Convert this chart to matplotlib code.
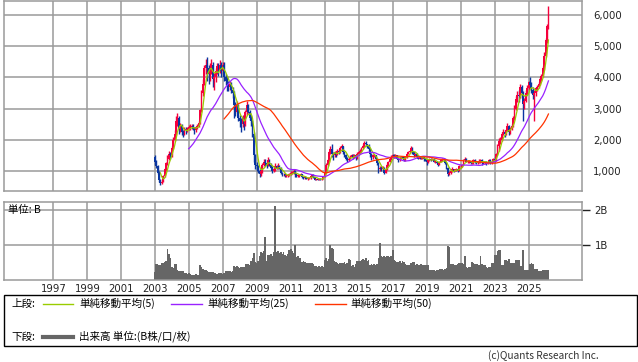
import numpy as np
import pandas as pd
import matplotlib

matplotlib.use("Agg")
import matplotlib.pyplot as plt
from matplotlib.patches import Rectangle

# monthly bars, first one is Dec 2002
first_year, first_month = 2002, 12
first_open = 1450

close = [
    1300,
    1150, 950, 700, 600, 650, 850, 1050, 1250, 1400, 1550, 1500, 1750,  # 2003
    2000, 2200, 2600, 2700, 2350, 2450, 2250, 2200, 2350, 2300, 2350, 2400,  # 2004
    2400, 2450, 2350, 2300, 2400, 2450, 2550, 2950, 3500, 3800, 4300, 4400,  # 2005
    4300, 4100, 4250, 4400, 3950, 4000, 4200, 4350, 4250, 4400, 4200, 4400,  # 2006
    4000, 3900, 3800, 3700, 3800, 3600, 3500, 3100, 2900, 3100, 2700, 2600,  # 2007
    2500, 2700, 2500, 2900, 3100, 2900, 2700, 2600, 2200, 1500, 1200, 1150,  # 2008
    1000, 900, 1000, 1200, 1300, 1250, 1200, 1350, 1200, 1100, 1000, 1050,  # 2009
    1150, 1100, 1150, 1100, 950, 900, 900, 850, 850, 850, 900, 950,  # 2010
    950, 1000, 900, 850, 850, 850, 900, 800, 780, 800, 750, 760,  # 2011
    780, 850, 880, 800, 720, 740, 720, 760, 740, 760, 820, 950,  # 2012
    1200, 1350, 1600, 1700, 1550, 1500, 1600, 1500, 1650, 1600, 1750, 1800,  # 2013
    1600, 1500, 1400, 1350, 1400, 1450, 1500, 1450, 1500, 1450, 1550, 1600,  # 2014
    1650, 1750, 1800, 1900, 1850, 1800, 1700, 1550, 1450, 1500, 1500, 1400,  # 2015
    1250, 1050, 1100, 1050, 1100, 950, 1050, 1200, 1300, 1400, 1450, 1500,  # 2016
    1450, 1500, 1400, 1350, 1400, 1450, 1400, 1350, 1450, 1550, 1600, 1650,  # 2017
    1750, 1600, 1500, 1550, 1450, 1400, 1450, 1400, 1450, 1400, 1350, 1300,  # 2018
    1350, 1400, 1350, 1400, 1300, 1300, 1250, 1200, 1300, 1350, 1400, 1350,  # 2019
    1250, 1100, 900, 950, 1000, 1050, 1000, 1050, 1050, 1000, 1150, 1150,  # 2020
    1200, 1350, 1400, 1300, 1300, 1300, 1250, 1250, 1350, 1300, 1250, 1300,  # 2021
    1300, 1350, 1300, 1250, 1300, 1250, 1300, 1350, 1250, 1300, 1400, 1350,  # 2022
    1550, 1800, 1950, 2000, 2200, 2250, 2200, 2300, 2450, 2250, 2350, 2450,  # 2023
    2700, 3000, 3300, 3450, 3400, 3700, 3500, 3150, 3250, 3500, 3650, 3850,  # 2024
    3750, 3600, 3450, 3500, 3650, 3700, 3800, 3950, 4050, 4300, 4700, 5200,  # 2025
    5650, 6150,  # 2026
]

high = [
    1520,
    1350, 1200, 1000, 750, 720, 880, 1100, 1300, 1500, 1650, 1600, 1800,
    2100, 2300, 2750, 2850, 2750, 2550, 2500, 2300, 2400, 2400, 2420, 2480,
    2500, 2520, 2500, 2400, 2450, 2500, 2600, 3000, 3600, 3950, 4400, 4600,
    4650, 4400, 4450, 4600, 4500, 4150, 4300, 4450, 4450, 4550, 4500, 4500,
    4500, 4100, 4050, 3900, 3900, 3850, 3700, 3550, 3200, 3250, 3150, 2800,
    2700, 2800, 2800, 2950, 3250, 3150, 2950, 2800, 2650, 2250, 1550, 1300,
    1200, 1050, 1100, 1250, 1400, 1400, 1300, 1450, 1400, 1250, 1150, 1100,
    1250, 1200, 1250, 1200, 1120, 980, 950, 920, 900, 900, 950, 1000,
    1000, 1050, 1020, 920, 900, 880, 930, 910, 820, 830, 820, 800,
    800, 870, 920, 890, 810, 760, 760, 780, 780, 780, 830, 960,
    1250, 1400, 1650, 1800, 1850, 1600, 1650, 1600, 1700, 1700, 1800, 1850,
    1800, 1650, 1550, 1450, 1450, 1500, 1550, 1550, 1550, 1520, 1600, 1650,
    1700, 1780, 1850, 1950, 1950, 1880, 1850, 1750, 1580, 1560, 1560, 1520,
    1420, 1300, 1150, 1150, 1150, 1120, 1080, 1250, 1320, 1420, 1500, 1550,
    1560, 1530, 1520, 1420, 1430, 1480, 1470, 1420, 1470, 1570, 1650, 1680,
    1800, 1760, 1620, 1580, 1570, 1470, 1480, 1480, 1480, 1460, 1420, 1370,
    1380, 1420, 1430, 1430, 1410, 1330, 1320, 1270, 1320, 1380, 1430, 1420,
    1380, 1280, 1130, 1000, 1060, 1120, 1070, 1080, 1100, 1070, 1180, 1190,
    1240, 1380, 1450, 1420, 1350, 1340, 1320, 1290, 1400, 1380, 1330, 1330,
    1380, 1400, 1380, 1330, 1320, 1320, 1320, 1390, 1380, 1330, 1420, 1460,
    1580, 1850, 2050, 2080, 2250, 2350, 2300, 2350, 2550, 2480, 2400, 2500,
    2750, 3100, 3400, 3550, 3600, 3800, 3750, 3550, 3350, 3600, 3750, 3900,
    4000, 3850, 3700, 3600, 3700, 3750, 3850, 4000, 4100, 4350, 4800, 5250,
    5700, 6300,
]

low = [
    1200,
    1100, 900, 650, 550, 580, 640, 820, 1000, 1200, 1350, 1380, 1450,
    1700, 1950, 2150, 2450, 2200, 2250, 2150, 2100, 2150, 2200, 2250, 2300,
    2300, 2350, 2300, 2200, 2250, 2350, 2400, 2500, 2900, 3400, 3750, 4100,
    3900, 3800, 3900, 4100, 3700, 3600, 3850, 4100, 4050, 4150, 4000, 4100,
    3900, 3750, 3550, 3550, 3600, 3500, 3350, 2700, 2750, 2850, 2600, 2400,
    2250, 2400, 2300, 2450, 2800, 2850, 2650, 2450, 2100, 1300, 1050, 1000,
    950, 820, 850, 950, 1150, 1150, 1100, 1150, 1150, 1050, 950, 980,
    1000, 1050, 1050, 1050, 900, 850, 850, 820, 810, 820, 840, 880,
    900, 920, 800, 820, 800, 820, 840, 780, 740, 760, 730, 720,
    730, 760, 840, 780, 700, 700, 700, 710, 720, 720, 740, 800,
    950, 1150, 1300, 1550, 1450, 1350, 1450, 1450, 1500, 1550, 1580, 1700,
    1550, 1450, 1350, 1300, 1320, 1380, 1440, 1400, 1420, 1350, 1400, 1500,
    1550, 1600, 1700, 1780, 1800, 1750, 1650, 1450, 1350, 1400, 1450, 1380,
    1200, 950, 1000, 1000, 1030, 900, 930, 1030, 1150, 1280, 1350, 1420,
    1420, 1430, 1380, 1300, 1330, 1380, 1380, 1320, 1330, 1430, 1530, 1580,
    1630, 1550, 1450, 1480, 1420, 1370, 1380, 1370, 1380, 1330, 1320, 1200,
    1270, 1330, 1320, 1340, 1280, 1260, 1220, 1150, 1190, 1290, 1330, 1320,
    1230, 1050, 830, 870, 920, 980, 960, 990, 1010, 980, 990, 1100,
    1130, 1190, 1330, 1280, 1250, 1260, 1220, 1210, 1240, 1270, 1210, 1230,
    1250, 1250, 1200, 1220, 1230, 1200, 1230, 1280, 1230, 1220, 1290, 1300,
    1330, 1500, 1650, 1880, 1950, 2150, 2100, 2150, 2280, 2150, 2200, 2300,
    2400, 2650, 2950, 3200, 3200, 3350, 3350, 2600, 3000, 3200, 3450, 3600,
    3650, 3500, 3300, 2600, 3400, 3550, 3650, 3750, 3900, 4000, 4250, 4650,
    5100, 5550,
]

# volume, billions of shares
volume = [
    0.22,
    0.46, 0.45, 0.42, 0.44, 0.48, 0.50, 0.52, 0.55, 0.90, 0.75, 0.63, 0.36,
    0.34, 0.47, 0.45, 0.28, 0.26, 0.26, 0.25, 0.26, 0.20, 0.19, 0.18, 0.20,
    0.16, 0.15, 0.15, 0.14, 0.16, 0.14, 0.15, 0.42, 0.38, 0.32, 0.30, 0.28,
    0.25, 0.24, 0.22, 0.24, 0.23, 0.19, 0.20, 0.18, 0.19, 0.20, 0.19, 0.18,
    0.19, 0.26, 0.25, 0.27, 0.26, 0.24, 0.26, 0.39, 0.38, 0.40, 0.36, 0.35,
    0.37, 0.36, 0.38, 0.46, 0.45, 0.47, 0.44, 0.55, 0.63, 0.78, 0.53, 0.50,
    0.55, 0.70, 0.80, 0.78, 0.82, 1.24, 0.55, 0.72, 0.73, 0.75, 0.70, 0.80,
    2.12, 0.80, 0.82, 0.78, 0.80, 0.76, 0.80, 0.73, 0.70, 0.75, 0.85, 0.88,
    0.82, 0.78, 1.00, 0.65, 0.68, 0.62, 0.64, 0.53, 0.55, 0.52, 0.50, 0.49,
    0.50, 0.48, 0.49, 0.47, 0.39, 0.40, 0.38, 0.39, 0.37, 0.40, 0.38, 0.58,
    0.62, 0.55, 0.60, 1.00, 0.92, 0.88, 0.55, 0.53, 0.50, 0.45, 0.48, 0.50,
    0.49, 0.52, 0.47, 0.50, 0.61, 0.58, 0.39, 0.42, 0.38, 0.45, 0.55, 0.54,
    0.56, 0.58, 0.60, 0.57, 0.62, 0.55, 0.58, 0.44, 0.46, 0.43, 0.45, 0.44,
    0.45, 0.63, 1.07, 0.68, 0.66, 0.70, 0.67, 0.69, 0.68, 0.66, 0.70, 0.87,
    0.58, 0.56, 0.53, 0.52, 0.55, 0.50, 0.54, 0.53, 0.45, 0.43, 0.44, 0.42,
    0.48, 0.53, 0.52, 0.44, 0.45, 0.43, 0.44, 0.46, 0.42, 0.44, 0.43, 0.44,
    0.42, 0.30, 0.29, 0.28, 0.30, 0.27, 0.29, 0.30, 0.33, 0.31, 0.32, 0.30,
    0.33, 0.35, 0.97, 0.95, 0.47, 0.45, 0.46, 0.44, 0.43, 0.45, 0.49, 0.48,
    0.50, 0.47, 0.68, 0.36, 0.35, 0.37, 0.36, 0.53, 0.50, 0.47, 0.45, 0.46,
    0.44, 0.68, 0.45, 0.42, 0.44, 0.36, 0.35, 0.37, 0.36, 0.49, 0.50, 0.71,
    0.72, 0.84, 0.86, 0.85, 0.44, 0.43, 0.58, 0.57, 0.56, 0.59, 0.49, 0.48,
    0.50, 0.49, 0.58, 0.57, 0.58, 0.40, 0.39, 0.85, 0.30, 0.28, 0.29, 0.30,
    0.47, 0.48, 0.46, 0.33, 0.32, 0.31, 0.26, 0.25, 0.27, 0.29, 0.30, 0.29,
    0.30, 0.29,
]

year_ticks = list(range(1997, 2026, 2))
price_ticks = [1000, 2000, 3000, 4000, 5000, 6000]
volume_ticks = [1, 2]
volume_labels = ["1B", "2B"]
ma_windows = [5, 25, 50]
ma_colors = ["#99cc00", "#9922ff", "#ff3300"]

UP = "#f5003c"
DOWN = "#0a36a0"
GRID = "#9a9a9a"
VOL = "#666666"

plt.rcParams["font.family"] = ["DejaVu Sans", "Noto Sans CJK JP"]

close = np.asarray(close, dtype=float)
high = np.asarray(high, dtype=float)
low = np.asarray(low, dtype=float)
volume = np.asarray(volume, dtype=float)
n = len(close)
t = first_year + (first_month - 0.5) / 12 + np.arange(n) / 12
opens = np.r_[first_open, close[:-1]]
up = close >= opens

fig = plt.figure(figsize=(6.38, 3.62), dpi=100)
W, H = 638, 362


def px_axes(x0, y0, x1, y1):
    return fig.add_axes([x0 / W, 1 - y1 / H, (x1 - x0) / W, (y1 - y0) / H])


xlim = (1994.06, 2028.1)

# price panel
ax = px_axes(3.5, 1, 582, 190.7)
ax.set_xlim(*xlim)
ax.set_ylim(369, 6449)
for y in price_ticks:
    ax.axhline(y, color=GRID, lw=1.1, zorder=0)
for x in year_ticks:
    ax.axvline(x, color=GRID, lw=1.1, zorder=0)
colors = np.where(up, UP, DOWN)
ax.vlines(t, low, high, colors=colors, lw=1.0, zorder=2)
body_lo = np.minimum(opens, close)
body_h = np.maximum(np.abs(close - opens), 15)
ax.bar(t, body_h, bottom=body_lo, width=0.11, color=colors, lw=0, zorder=2)
series = pd.Series(close)
for window, color in zip(ma_windows, ma_colors):
    ma = series.rolling(window).mean()
    ax.plot(t, ma, color=color, lw=0.9, zorder=3)
ax.set_xticks([])
ax.set_yticks(price_ticks)
ax.set_yticklabels([f"{v:,}" for v in price_ticks])
ax.yaxis.tick_right()
ax.tick_params(axis="y", length=0, pad=8, labelsize=7.3, colors="#222222")
for s in ax.spines.values():
    s.set_color(GRID)
    s.set_linewidth(1.1)

# volume panel
av = px_axes(3.5, 202, 582, 280)
av.set_xlim(*xlim)
av.set_ylim(0, 2.24)
for y in volume_ticks:
    av.axhline(y, color=GRID, lw=1.1, zorder=0)
for x in year_ticks:
    av.axvline(x, color=GRID, lw=1.1, zorder=0)
# slightly wider than a month so neighbouring bars merge into one solid block
av.bar(t, volume, width=0.1, color=VOL, lw=0, zorder=2)
av.set_yticks(volume_ticks)
av.set_yticklabels(volume_labels)
av.yaxis.tick_right()
av.tick_params(axis="y", length=6, width=1, pad=3, labelsize=7.3, colors="#222222")
for tick in av.yaxis.get_major_ticks():
    tick.tick2line.set_color(GRID)
av.set_xticks(year_ticks)
av.set_xticklabels([str(y) for y in year_ticks])
av.tick_params(axis="x", length=0, pad=3, labelsize=7.3, colors="#222222")
for s in av.spines.values():
    s.set_color(GRID)
    s.set_linewidth(1.1)
av.text(0.008, 0.9, "単位: B", transform=av.transAxes, fontsize=7.5,
        family=["Noto Sans CJK JP", "DejaVu Sans"], va="center", ha="left", zorder=4)

# legend and footer in pixel coordinates
lg = fig.add_axes([0, 0, 1, 1], facecolor="none")
lg.set_xlim(0, W)
lg.set_ylim(H, 0)
lg.axis("off")
lg.add_patch(Rectangle((3.5, 295.3), 633, 51, fill=False, ec="black", lw=1.0))
jp = ["Noto Sans CJK JP", "DejaVu Sans"]
row1, row2 = 303.5, 336.5
lg.text(11.5, row1, "上段:", fontsize=7.6, family=jp, va="center")
legend_items = [(43, 73, 79, "単純移動平均(5)"),
                (171, 202, 207, "単純移動平均(25)"),
                (315, 346, 350, "単純移動平均(50)")]
for (x0, x1, xt, label), color in zip(legend_items, ma_colors):
    lg.plot([x0, x1], [row1, row1], color=color, lw=1.0)
    lg.text(xt, row1, label, fontsize=7.6, family=jp, va="center")
lg.text(11.5, row2, "下段:", fontsize=7.6, family=jp, va="center")
lg.plot([43, 73], [row2, row2], color=VOL, lw=3)
lg.text(79, row2, "出来高 単位:(B株/口/枚)", fontsize=7.6, family=jp, va="center")
lg.text(599, 356, "(c)Quants Research Inc.", fontsize=7.3, family=jp,
        va="center", ha="right", color="#333333")

fig.savefig("out.png", dpi=100)
plt.close(fig)
